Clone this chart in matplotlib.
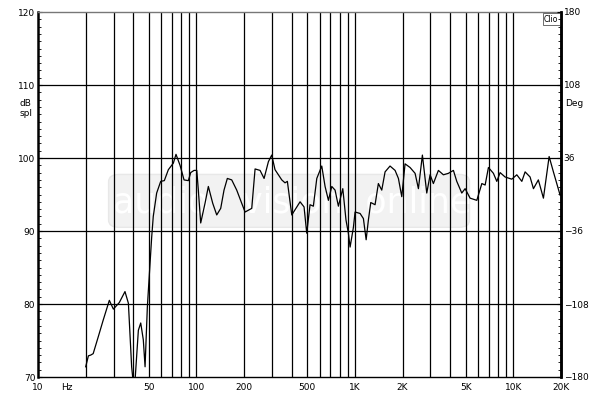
import matplotlib
matplotlib.use("Agg")
import matplotlib.pyplot as plt
from matplotlib.ticker import FixedLocator, MultipleLocator, NullFormatter
from matplotlib.patches import FancyBboxPatch

freq = [20.0, 20.8, 21.5, 22.3, 24.0, 25.8, 28.2, 29.9, 32.6, 35.4, 37.2, 39.0, 39.8, 41.0,
        43.0, 44.5, 46.2, 47.4, 49.0, 50.2, 52.2, 53.4, 56.1, 59.5, 62.7, 66.5, 71.5, 74.3,
        78.8, 83.5, 88.9, 92.0, 96.6, 100.5, 102.8, 106.4, 113.3, 118.9, 126.7, 134.3, 142.3,
        149.3, 156.7, 167.0, 179.6, 193.1, 202.8, 223.4, 234.5, 252.1, 267.3, 284.6, 298.7,
        313.3, 345.6, 362.3, 374.9, 399.7, 450.9, 477.8, 496.8, 521.2, 547.0, 575.0, 618,
        648.6, 680.8, 714.8, 750, 787, 839, 879, 910, 933, 979, 1003, 1079, 1132, 1178, 1217,
        1260, 1341, 1407, 1478, 1551, 1667, 1794, 1883, 1977, 2074, 2230, 2399, 2518, 2668,
        2843, 2985, 3130, 3366, 3621, 3892, 4188, 4397, 4729, 4964, 5337, 5884, 6330, 6640,
        6967, 7490, 7866, 8257, 8873, 9784, 10520, 11320, 11870, 12760, 13400, 14390, 15490,
        16830, 17910, 19750]
spl = [71.4, 72.9, 73.0, 73.2, 75.5, 77.8, 80.5, 79.3, 80.2, 81.7, 80.1, 71.4, 69.5, 69.6,
       76.4, 77.4, 75.1, 71.4, 79.6, 83.3, 89.2, 92.0, 95.2, 96.8, 96.9, 98.4, 99.3, 100.5,
       99.0, 97.0, 96.9, 98.0, 98.3, 98.3, 95.6, 91.1, 93.8, 96.1, 93.8, 92.2, 93.1,
       95.6, 97.2, 97.0, 95.6, 93.8, 92.6, 93.1, 98.5, 98.3, 97.2, 99.5, 100.4,
       98.4, 97.0, 96.6, 96.8, 92.2, 94.0, 93.3, 89.7, 93.6, 93.4, 97.2, 98.9,
       96.1, 94.2, 96.1, 95.6, 93.4, 95.8, 91.5, 89.7, 87.8, 90.5, 92.6, 92.4, 91.7, 88.8, 91.5,
       93.9, 93.6, 96.5, 95.6, 98.1, 98.9, 98.3, 97.2, 94.7, 99.2, 98.7, 97.9, 95.8, 100.4,
       95.2, 97.7, 96.5, 98.3, 97.7, 97.9, 98.3, 96.8, 95.2, 95.8, 94.5, 94.2, 96.5, 96.3,
       98.7, 97.9, 96.8, 98.0, 97.4, 97.1, 97.7, 96.8, 98.1, 97.4, 95.8, 97.0, 94.5,
       100.2, 98.1, 94.9]

x_ticks = [10, 50, 100, 200, 500, 1000, 2000, 5000, 10000, 20000]
x_labels = ["10", "50", "100", "200", "500", "1K", "2K", "5K", "10K", "20K"]
y_ticks = [70, 80, 90, 100, 110, 120]
deg_ticks = [-180, -108, -36, 36, 108, 180]

grid_x = [20, 30, 40, 50, 60, 70, 80, 90, 100, 200, 300, 400, 500, 600, 700, 800, 900,
          1000, 2000, 3000, 4000, 5000, 6000, 7000, 8000, 9000, 10000]

FS = 6.5

fig = plt.figure(figsize=(6, 3.96), dpi=100)
ax = fig.add_axes([38 / 600, 19 / 396, 523 / 600, 365 / 396])
ax.set_xscale("log")
ax.set_xlim(10, 20000)
ax.set_ylim(70, 120)

# watermark
wm = FancyBboxPatch((0.135, 0.41), 0.69, 0.145, boxstyle="round,pad=0,rounding_size=0.02",
                    transform=ax.transAxes, facecolor="#f2f2f2", edgecolor="#e8e8e8",
                    lw=1, zorder=0)
ax.add_patch(wm)
ax.text(0.485, 0.478, "audio   vision  online", transform=ax.transAxes, ha="center",
        va="center", fontsize=25, color="white", zorder=0.5)

for g in grid_x:
    ax.axvline(g, color="black", lw=0.9, zorder=1)
for g in [80, 90, 100, 110]:
    ax.axhline(g, color="black", lw=0.9, zorder=1)

ax.plot(freq, spl, color="black", lw=0.9, zorder=3)

ax.set_xticks(x_ticks)
ax.set_xticklabels(x_labels)
ax.xaxis.set_minor_locator(FixedLocator([]))
ax.xaxis.set_minor_formatter(NullFormatter())
ax.tick_params(axis="x", length=0, pad=4, labelsize=FS)
ax.set_yticks(y_ticks)
ax.yaxis.set_minor_locator(MultipleLocator(1))
ax.tick_params(axis="y", which="major", direction="in", length=3, labelsize=FS, pad=2)
ax.tick_params(axis="y", which="minor", direction="in", length=2.5)

for s in ["left", "right", "bottom"]:
    ax.spines[s].set_color("black")
ax.spines["left"].set_linewidth(1.8)
ax.spines["right"].set_linewidth(1.8)
ax.spines["bottom"].set_linewidth(1.0)
ax.spines["top"].set_color("#777777")
ax.spines["top"].set_linewidth(1.0)

ax2 = ax.twinx()
ax2.set_ylim(-180, 180)
ax2.set_yticks(deg_ticks)
ax2.yaxis.set_minor_locator(MultipleLocator(7.2))
ax2.tick_params(axis="y", which="major", direction="in", length=3, labelsize=FS, pad=2)
ax2.tick_params(axis="y", which="minor", direction="in", length=2.5)
for s in ["left", "top", "bottom"]:
    ax2.spines[s].set_visible(False)
ax2.spines["right"].set_linewidth(1.8)

ax.annotate("Hz", xy=(0.055, 0), xycoords="axes fraction", xytext=(0, -4),
            textcoords="offset points", ha="center", va="top", fontsize=FS)
fig.text(20 / 600, 1 - 104 / 396, "dB", fontsize=FS, ha="left", va="center")
fig.text(20 / 600, 1 - 114 / 396, "spl", fontsize=FS, ha="left", va="center")
fig.text(565 / 600, 1 - 104 / 396, "Deg", fontsize=FS, ha="left", va="center")
ax.text(0.995, 0.993, "Clio", transform=ax.transAxes, ha="right", va="top", fontsize=5.5,
        bbox=dict(boxstyle="square,pad=0.15", facecolor="white", edgecolor="#555555", lw=0.6),
        zorder=5)

fig.savefig("out.png", dpi=100, facecolor="white")
